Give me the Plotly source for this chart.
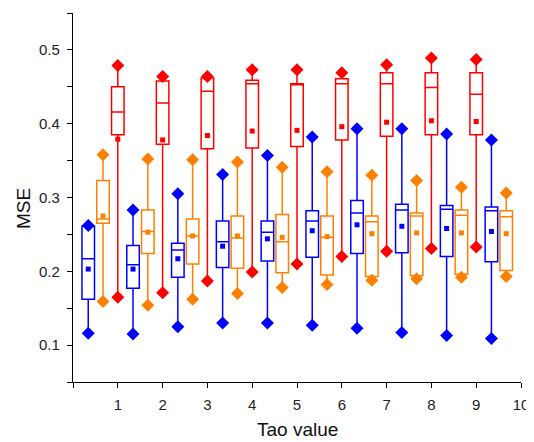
import plotly.graph_objects as go

# ---- data ----
blue_x = [0.34, 1.34, 2.34, 3.34, 4.34, 5.34, 6.34, 7.34, 8.34, 9.34]
blue_min = [0.116, 0.115, 0.125, 0.130, 0.130, 0.127, 0.123, 0.117, 0.113, 0.109]
blue_q1 = [0.162, 0.177, 0.192, 0.205, 0.214, 0.219, 0.224, 0.225, 0.220, 0.213]
blue_med = [0.217, 0.209, 0.229, 0.240, 0.253, 0.268, 0.279, 0.283, 0.284, 0.282]
blue_q3 = [0.261, 0.235, 0.238, 0.268, 0.268, 0.282, 0.296, 0.291, 0.289, 0.287]
blue_max = [0.262, 0.283, 0.305, 0.331, 0.357, 0.382, 0.393, 0.393, 0.386, 0.378]
blue_mean = [0.203, 0.203, 0.217, 0.234, 0.244, 0.255, 0.263, 0.261, 0.258, 0.254]

orange_x = [0.67, 1.67, 2.67, 3.67, 4.67, 5.67, 6.67, 7.67, 8.67, 9.67]
orange_min = [0.159, 0.154, 0.162, 0.170, 0.178, 0.182, 0.188, 0.190, 0.192, 0.193]
orange_q1 = [0.265, 0.224, 0.210, 0.204, 0.198, 0.195, 0.193, 0.194, 0.196, 0.201]
orange_med = [0.271, 0.254, 0.248, 0.245, 0.240, 0.246, 0.267, 0.275, 0.276, 0.274]
orange_q3 = [0.323, 0.283, 0.271, 0.275, 0.277, 0.275, 0.275, 0.279, 0.283, 0.282]
orange_max = [0.358, 0.352, 0.351, 0.348, 0.341, 0.335, 0.330, 0.323, 0.314, 0.306]
orange_mean = [0.275, 0.253, 0.248, 0.248, 0.246, 0.247, 0.251, 0.252, 0.252, 0.251]

red_x = [1, 2, 3, 4, 5, 6, 7, 8, 9]
red_min = [0.165, 0.171, 0.187, 0.199, 0.210, 0.220, 0.227, 0.231, 0.233]
red_q1 = [0.385, 0.372, 0.366, 0.367, 0.369, 0.378, 0.383, 0.385, 0.385]
red_med = [0.416, 0.428, 0.444, 0.454, 0.453, 0.454, 0.454, 0.449, 0.440]
red_q3 = [0.450, 0.458, 0.462, 0.459, 0.454, 0.461, 0.469, 0.469, 0.469]
red_max = [0.479, 0.464, 0.464, 0.473, 0.473, 0.469, 0.480, 0.489, 0.487]
red_mean = [0.379, 0.378, 0.384, 0.390, 0.391, 0.396, 0.402, 0.404, 0.403]

x_tickvals = [0, 1, 2, 3, 4, 5, 6, 7, 8, 9, 10]
x_ticktext = ["", "1", "2", "3", "4", "5", "6", "7", "8", "9", "10"]
y_tickvals = [0.05, 0.1, 0.15, 0.2, 0.25, 0.3, 0.35, 0.4, 0.45, 0.5, 0.55]
y_ticktext = ["", "0.1", "", "0.2", "", "0.3", "", "0.4", "", "0.5", ""]

series = [
    ("#0000FF", blue_x, blue_min, blue_q1, blue_med, blue_q3, blue_max, blue_mean),
    ("#FF8000", orange_x, orange_min, orange_q1, orange_med, orange_q3, orange_max, orange_mean),
    ("#FF0000", red_x, red_min, red_q1, red_med, red_q3, red_max, red_mean),
]

fig = go.Figure()
for color, xs, mn, q1, med, q3, mx, mean in series:
    fig.add_trace(go.Box(
        x=xs, q1=q1, median=med, q3=q3, lowerfence=mn, upperfence=mx,
        width=0.28, whiskerwidth=0, boxpoints=False,
        line=dict(color=color, width=1.5), fillcolor="rgba(0,0,0,0)",
        showlegend=False,
    ))
    fig.add_trace(go.Scatter(
        x=xs + xs, y=mn + mx, mode="markers",
        marker=dict(symbol="diamond", size=10, color=color),
        showlegend=False,
    ))
    fig.add_trace(go.Scatter(
        x=xs, y=mean, mode="markers",
        marker=dict(symbol="square", size=5, color=color),
        showlegend=False,
    ))

axis_common = dict(
    showline=True, linecolor="black", linewidth=1.3, mirror=False,
    ticks="outside", ticklen=5, tickwidth=1.3, tickcolor="black",
    showgrid=False, zeroline=False, ticklabeloverflow="allow",
    tickfont=dict(family="Liberation Sans, Arial", size=15, color="#222"),
)

# the page body has an 8px margin, so the figure is sized to fit the window
fig.update_layout(
    width=526, height=434,
    margin=dict(l=65, r=6, t=5, b=60),
    plot_bgcolor="white", paper_bgcolor="white",
    boxmode="overlay",
    xaxis=dict(range=[0, 10], tickmode="array", tickvals=x_tickvals,
               ticktext=x_ticktext, ticklabelstandoff=4, **axis_common),
    yaxis=dict(range=[0.05, 0.55], tickmode="array", tickvals=y_tickvals,
               ticktext=y_ticktext, ticklabelstandoff=4, **axis_common),
    annotations=[
        dict(text="Tao value", xref="paper", yref="paper", x=0.5, y=-0.130,
             xanchor="center", yanchor="middle", showarrow=False,
             font=dict(family="Liberation Sans, Arial", size=19, color="#111")),
        dict(text="MSE", xref="paper", yref="paper", x=-0.112, y=0.471,
             xanchor="center", yanchor="middle", showarrow=False, textangle=-90,
             font=dict(family="Liberation Sans, Arial", size=19, color="#111")),
    ],
)

fig.write_html("out.html")
